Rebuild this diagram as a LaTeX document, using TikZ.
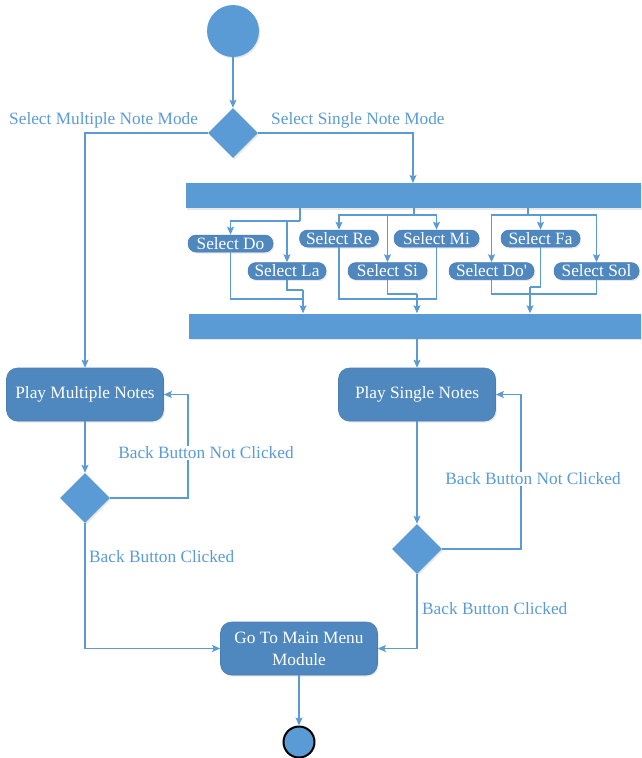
\documentclass[tikz,border=0pt]{standalone}
\usepackage{fontspec}
\setmainfont{Liberation Serif}
\usetikzlibrary{shapes.geometric,arrows.meta,shadows}
\definecolor{lineblue}{HTML}{5B9BD5}
\definecolor{actblue}{HTML}{4F87BF}
\definecolor{edgeblue}{HTML}{4A7EB3}

\tikzset{
  every node/.style={font=\fontsize{17.3}{19}\selectfont},
  soft/.style={drop shadow={shadow xshift=1.2pt, shadow yshift=-1.5pt, opacity=0.18}},
  line/.style={draw=lineblue, line width=1.1pt},
  flow/.style={line, -{Stealth[length=8pt,width=7pt,inset=1.5pt]}},
  action/.style={rectangle, rounded corners=11pt, fill=actblue, draw=edgeblue,
    line width=0.6pt, text=white, minimum width=157pt, minimum height=53pt,
    inner sep=2pt, align=center, soft},
  oneline/.style={text height=1.0em, text depth=0.2em},
  pill/.style={rectangle, rounded corners=8pt, fill=actblue, draw=edgeblue,
    line width=0.5pt, text=white, minimum height=17pt, inner xsep=2pt,
    inner ysep=0.5pt, soft},
  decision/.style={diamond, aspect=1, fill=lineblue, minimum width=50pt,
    minimum height=50pt, inner sep=0pt, soft},
  bar/.style={rectangle, fill=lineblue, minimum height=25pt, inner sep=0pt, soft},
  initial/.style={circle, fill=lineblue, minimum size=52pt, inner sep=0pt, soft},
  final/.style={circle, fill=lineblue, draw=black, line width=2pt,
    minimum size=31pt, inner sep=0pt},
  lbl/.style={text=lineblue, inner sep=1pt}
}

\begin{document}
\begin{tikzpicture}[x=1pt,y=-1pt]
\useasboundingbox (0,0) rectangle (641,758);

% start and mode choice
\node[initial] (start) at (233,31) {};
\node[decision] (mode) at (233,133) {};

% fork / join bars
\node[bar, minimum width=455pt] (fork) at (413.5,195.5) {};
\node[bar, minimum width=452pt] (join) at (415,326) {};

% note selections
\node[pill, minimum width=85pt] (sdo)  at (230.5,243.5) {Select Do};
\node[pill, minimum width=78pt] (sla)  at (287,271)     {Select La};
\node[pill, minimum width=79pt] (sre)  at (339,238.5)   {Select Re};
\node[pill, minimum width=85pt] (smi)  at (436.5,238.5) {Select Mi};
\node[pill, minimum width=79pt] (ssi)  at (387.5,271)   {Select Si};
\node[pill, minimum width=79pt] (sfa)  at (540.5,238.5) {Select Fa};
\node[pill, minimum width=85pt] (sdo2) at (491.5,271)   {Select Do\textquotesingle};
\node[pill, minimum width=85pt] (ssol) at (596.5,271)   {Select Sol};

% actions
\node[action, oneline] (pmn) at (85,394.5)  {Play Multiple Notes};
\node[action, oneline] (psn) at (417,394.5) {Play Single Notes};
\node[decision] (dm) at (85,498) {};
\node[decision] (ds) at (417,549) {};
\node[action] (menu) at (299,648.5) {Go To Main Menu\\[3pt]Module};
\node[final] (end) at (299,742) {};

% routing points
\coordinate (forkin) at (413,183);
\coordinate (f1) at (300,221);
\coordinate (f2) at (414,215);
\coordinate (f3) at (528,215);
\coordinate (g1) at (303,299);
\coordinate (g1b) at (303,290);
\coordinate (g2) at (417,299);
\coordinate (g2b) at (417,294);
\coordinate (g3) at (530,294);
\coordinate (g3b) at (530,287);
\coordinate (lm) at (188,498);
\coordinate (rs) at (521,549);

% top part
\draw[flow] (start) -- (mode);
\draw[flow] (mode.west) -| (pmn.north);
\draw[flow] (mode.east) -| (forkin);
\node[lbl, anchor=west] at (8,120) {Select Multiple Note Mode};
\node[lbl, anchor=west] at (270,120) {Select Single Note Mode};

% fork branches
\draw[line] (fork.south -| f1) -- (f1);
\draw[flow] (f1) -| (sdo.north);
\draw[flow] (f1) -| (sla.north);
\draw[line] (fork.south -| f2) -- (f2);
\draw[flow] (f2) -| (sre.north);
\draw[flow] (f2) -| (smi.north);
\draw[flow] (f2) -| (ssi.north);
\draw[line] (fork.south -| f3) -- (f3);
\draw[flow] (f3) -| (sdo2.north);
\draw[flow] (f3) -| (sfa.north);
\draw[flow] (f3) -| (ssol.north);

% join branches
\draw[line] (sdo.south) |- (g1);
\draw[line] (sla.south) |- (g1b);
\draw[flow] (g1b) -- (join.north -| g1b);
\draw[line] (sre.south) |- (g2) -| (smi.south);
\draw[line] (ssi.south) |- (g2b);
\draw[flow] (g2b) -- (join.north -| g2b);
\draw[line] (sdo2.south) |- (g3) -| (ssol.south);
\draw[line] (sfa.south) |- (g3b);
\draw[flow] (g3b) -- (join.north -| g3b);
\draw[flow] (join.south -| psn.north) -- (psn.north);

% multiple-note loop
\draw[flow] (pmn) -- (dm);
\draw[flow] (dm.east) -- (lm) |- (pmn.east);
\node[lbl, fill=white] at (206,453) {Back Button Not Clicked};
\draw[flow] (dm.south) |- (menu.west);
\node[lbl, anchor=west] at (88,557) {Back Button Clicked};

% single-note loop
\draw[flow] (psn) -- (ds);
\draw[flow] (ds.east) -- (rs) |- (psn.east);
\node[lbl, fill=white] at (533,479) {Back Button Not Clicked};
\draw[flow] (ds.south) |- (menu.east);
\node[lbl, anchor=west] at (421,609) {Back Button Clicked};

% end
\draw[flow] (menu) -- (end);
\end{tikzpicture}
\end{document}
